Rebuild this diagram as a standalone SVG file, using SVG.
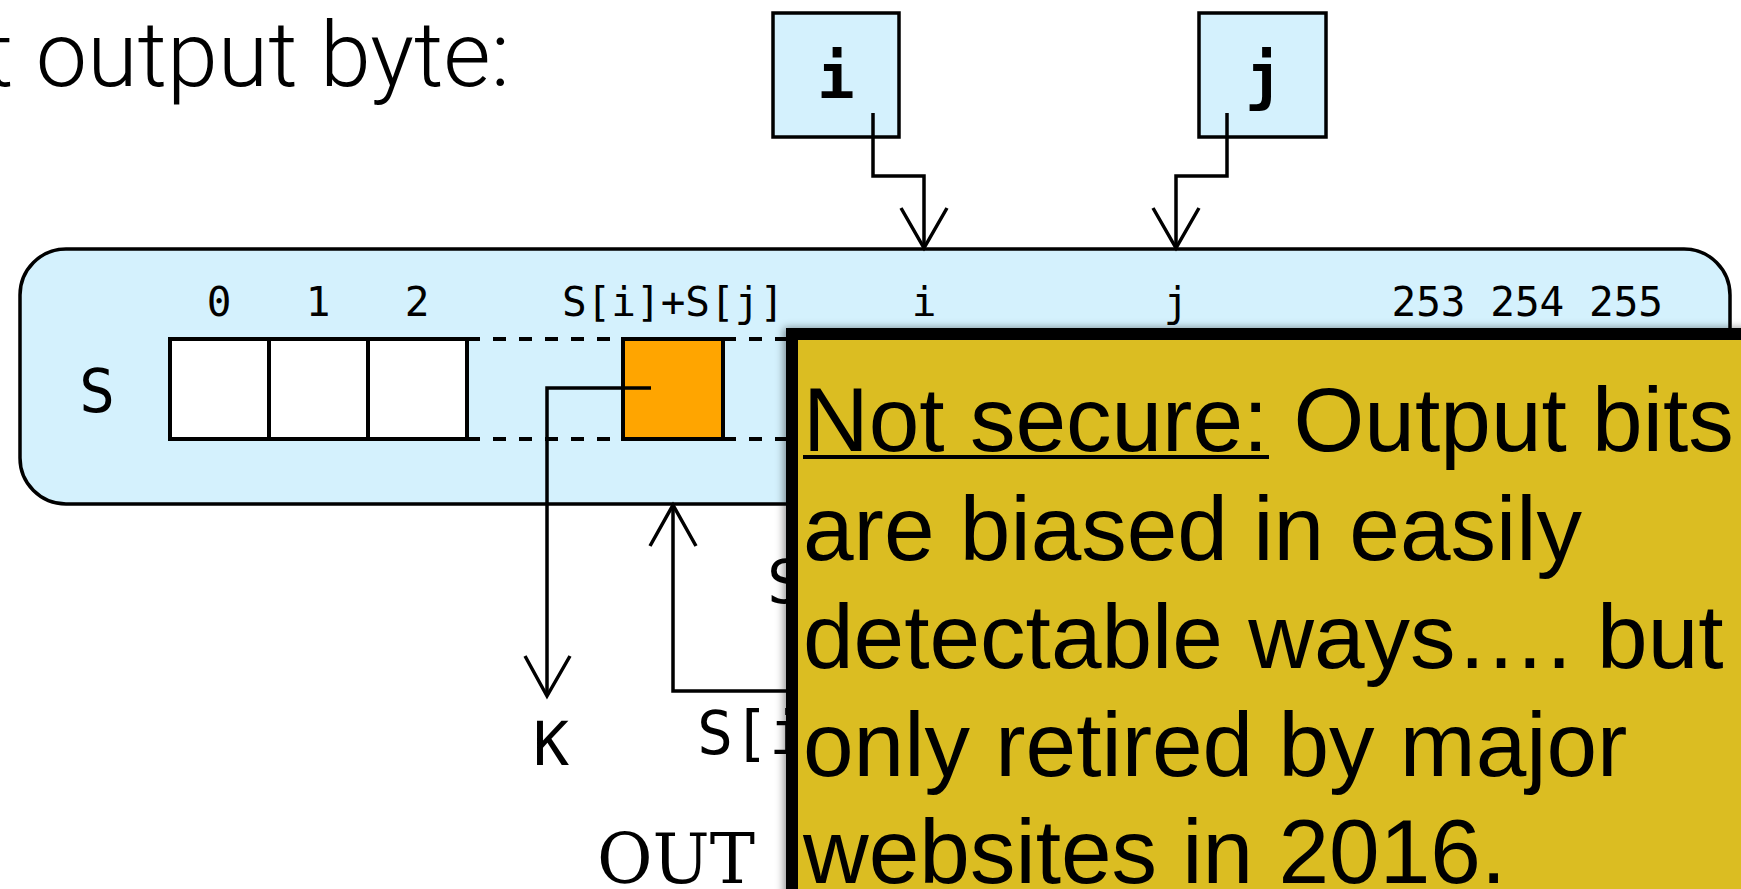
<svg xmlns="http://www.w3.org/2000/svg" width="1741" height="889" viewBox="0 0 1741 889">
  <defs>
    <style>
      .mono { font-family: "DejaVu Sans Mono", "Liberation Mono", monospace; fill: #000; }
      .idx { font-size: 41px; text-anchor: middle; }
      .big { font-size: 60px; }
      .sans { font-family: "Liberation Sans", Arial, sans-serif; fill: #000; font-size: 91px; }
      .title { font-family: Roboto, "Liberation Sans", sans-serif; font-weight: 300; fill: #000; font-size: 91px; }
      .box { fill: #d4f1fd; stroke: #000; stroke-width: 3.5; }
      .cell { fill: #fff; stroke: #000; stroke-width: 4; }
      .line { fill: none; stroke: #000; stroke-width: 3.5; stroke-linejoin: miter; }
      .dash { fill: none; stroke: #000; stroke-width: 4; stroke-dasharray: 13 13; }
    </style>
    <filter id="shadow" x="-5%" y="-5%" width="110%" height="110%">
      <feDropShadow dx="-2" dy="0" stdDeviation="4" flood-color="#000" flood-opacity="0.45"/>
    </filter>
  </defs>

  <rect x="0" y="0" width="1741" height="889" fill="#fff"/>

  <g id="title">
    <text class="title" x="-16" y="86" textLength="526" lengthAdjust="spacingAndGlyphs">t output byte:</text>
  </g>

  <g id="state-S">
    <rect class="box" x="20" y="249" width="1710" height="255" rx="46" ry="46"/>
    <text class="mono big" x="97" y="412" text-anchor="middle">S</text>
    <text class="mono idx" x="219" y="316">0</text>
    <text class="mono idx" x="318" y="316">1</text>
    <text class="mono idx" x="417" y="316">2</text>
    <text class="mono idx" x="673" y="316">S[i]+S[j]</text>
    <text class="mono idx" x="924" y="316">i</text>
    <text class="mono idx" x="1176" y="316">j</text>
    <text class="mono" font-size="41" x="1663" y="316" text-anchor="end">253 254 255</text>
    <rect class="cell" x="170" y="339" width="99" height="100"/>
    <rect class="cell" x="269" y="339" width="99" height="100"/>
    <rect class="cell" x="368" y="339" width="99" height="100"/>
    <path class="dash" d="M467 339 H623 M467 439 H623 M723 339 H790 M723 439 H790"/>
    <rect x="623" y="339" width="100" height="100" fill="#ffa500" stroke="#000" stroke-width="4"/>
  </g>

  <g id="node-i">
    <rect class="box" x="773" y="13" width="126" height="124"/>
    <text class="mono" font-size="62" font-weight="bold" x="836" y="98" text-anchor="middle">i</text>
  </g>

  <g id="node-j">
    <rect class="box" x="1199" y="13" width="127" height="124"/>
    <text class="mono" font-size="62" font-weight="bold" x="1264" y="98" text-anchor="middle">j</text>
  </g>

  <g id="connectors">
    <path class="line" d="M873 113 V176 H924 V248"/>
    <path class="line" d="M901 208 L924 248 L947 208"/>
    <path class="line" d="M1227 113 V176 H1176 V248"/>
    <path class="line" d="M1153 208 L1176 248 L1199 208"/>
    <path class="line" d="M651 388 H547 V696"/>
    <path class="line" d="M525 656 L547 696 L570 656"/>
    <path class="line" d="M790 691 H673 V505"/>
    <path class="line" d="M650 546 L673 505 L696 546"/>
  </g>

  <g id="labels">
    <text class="mono big" x="551" y="765" text-anchor="middle">K</text>
    <text class="mono big" x="767" y="603">S</text>
    <text class="mono big" x="697" y="754">S[i</text>
    <text font-family="'DejaVu Serif', 'Liberation Serif', serif" font-size="70" x="597" y="883" textLength="158" lengthAdjust="spacingAndGlyphs">OUT</text>
  </g>

  <g id="note">
    <rect x="792" y="334" width="1000" height="600" fill="#dbbd22" stroke="#000" stroke-width="12" filter="url(#shadow)"/>
    <text class="sans" x="803" y="451">Not secure: Output bits</text>
    <rect x="803" y="455" width="466" height="4" fill="#000"/>
    <text class="sans" x="803" y="560">are biased in easily</text>
    <text class="sans" x="803" y="668">detectable ways…. but</text>
    <text class="sans" x="803" y="776">only retired by major</text>
    <text class="sans" x="803" y="883">websites in 2016.</text>
  </g>
</svg>
